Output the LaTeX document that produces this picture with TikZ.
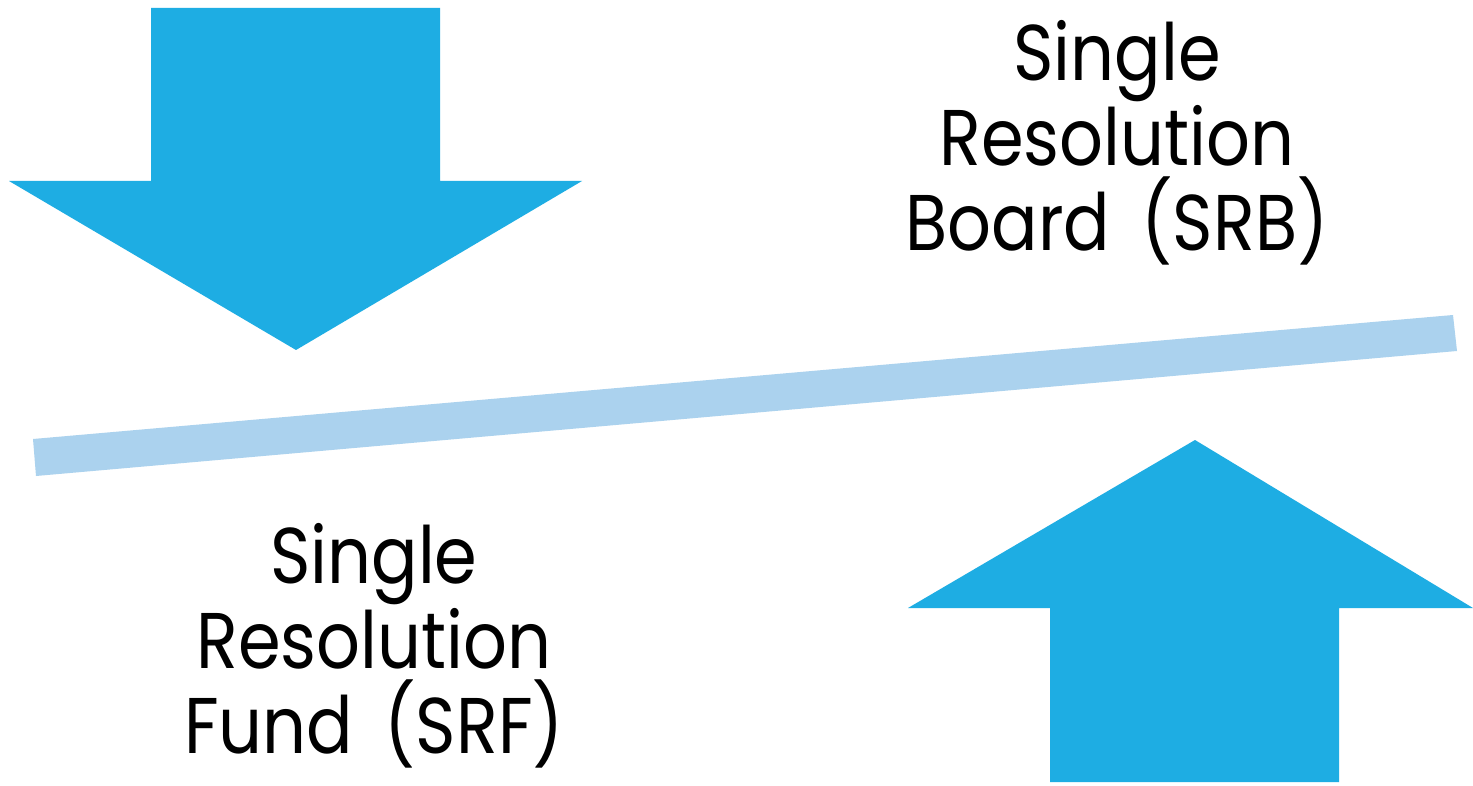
\documentclass[tikz,border=0pt]{standalone}
\usepackage{fontspec}
\setmainfont[FakeStretch=0.87]{Poppins}
\definecolor{arrowblue}{HTML}{1EADE3}
\definecolor{barblue}{HTML}{ABD2EE}
\begin{document}
\begin{tikzpicture}[x=1pt,y=-1pt,
  arrowshape/.style={fill=arrowblue,draw=none},
  label/.style={align=center,inner sep=0pt,font=\fontsize{79}{85}\selectfont,anchor=base}]
\useasboundingbox (0,0) rectangle (1473,786);
\fill[white] (0,0) rectangle (1473,786);
% down arrow
\path[arrowshape] (151,8) -- (440,8) -- (440,181) -- (582,181) -- (296,350) -- (9,181) -- (151,181) -- cycle;
% tilted bar
\path[fill=barblue] (33,439) -- (1453,315) -- (1457,351) -- (36,476) -- cycle;
% up arrow
\path[arrowshape] (1050,782) -- (1339,782) -- (1339,608) -- (1473,608) -- (1195,440) -- (908,608) -- (1050,608) -- cycle;
\node[label] (srb) at (1117,251) {Single\\Resolution\\Board \,(SRB)};
\node[label] (srf) at (374,753) {Single\\Resolution\\Fund \,(SRF)};
\end{tikzpicture}
\end{document}
